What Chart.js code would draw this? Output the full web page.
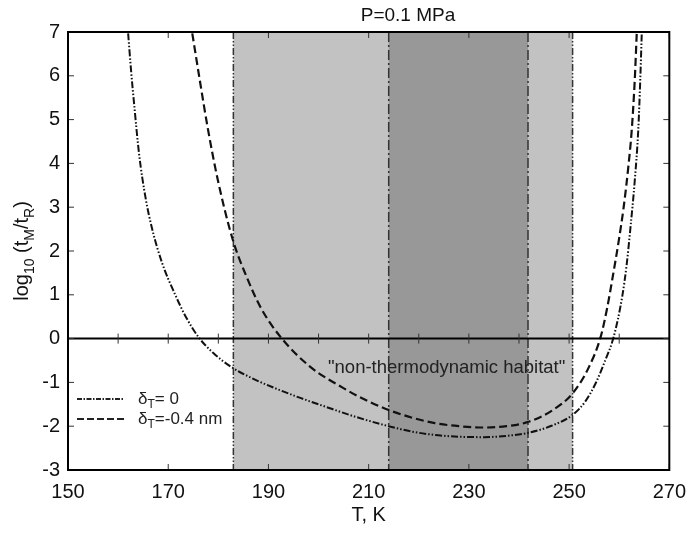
<!DOCTYPE html>
<html>
<head>
<meta charset="utf-8">
<title>P=0.1 MPa</title>
<script src="https://cdn.jsdelivr.net/npm/chart.js@4/dist/chart.umd.min.js"></script>
<style>
  html, body { margin: 0; padding: 0; background: #fff; }
  #wrap { width: 696px; height: 534px; position: relative; }
</style>
</head>
<body>
<div id="wrap"><canvas id="chart" width="696" height="534"></canvas></div>
<script>
// ---- data ----
// delta_T = 0 (dash-dot-dot curve)
const tZero   = [162.0, 162.6, 163.2, 164.2, 165.5, 166.8, 168.8, 171.4, 173.5, 176.0, 179.0, 182.5, 187.0, 191.7, 196.5, 201.5, 207.5, 214.0, 218.5, 223.2, 228.0, 233.0, 237.5, 241.9, 246.5, 250.7, 253.2, 255.3, 257.2, 258.9, 260.6, 261.5, 262.2, 263.1, 263.8, 264.2, 264.5];
const logZero = [6.97, 6.1, 5.35, 4.2, 3.2, 2.5, 1.72, 1.0, 0.5, 0.04, -0.33, -0.64, -0.92, -1.15, -1.36, -1.56, -1.79, -2.0, -2.12, -2.2, -2.24, -2.25, -2.22, -2.15, -1.99, -1.74, -1.44, -1.02, -0.5, 0.04, 0.96, 1.7, 2.48, 3.6, 4.76, 5.9, 6.97];

// delta_T = -0.4 nm (dashed curve)
const tShift   = [174.8, 176.3, 177.9, 179.9, 182.9, 185.5, 188.5, 192.4, 198.3, 204.8, 209.0, 214.0, 218.5, 223.2, 228.0, 233.0, 237.5, 241.9, 246.5, 250.7, 254.0, 256.3, 257.6, 258.6, 260.0, 260.9, 261.8, 262.5, 263.1, 263.5];
const logShift = [6.97, 5.9, 4.8, 3.62, 2.25, 1.45, 0.7, 0.04, -0.64, -1.12, -1.38, -1.63, -1.8, -1.93, -2.0, -2.03, -2.0, -1.90, -1.65, -1.25, -0.64, 0.04, 0.7, 1.34, 2.3, 3.01, 3.9, 4.76, 5.9, 6.97];

// shaded temperature bands
const outerBand = [183.0, 250.7];
const innerBand = [214.0, 241.8];

// axis ticks
const xTicks = [150, 170, 190, 210, 230, 250, 270];
const yTicks = [-3, -2, -1, 0, 1, 2, 3, 4, 5, 6, 7];

const FONT = "'Liberation Sans', Arial, sans-serif";

function pts(xs, ys) {
  return xs.map((x, i) => ({ x: x, y: ys[i] }));
}

// bands + boundary lines behind the curves
const bandsPlugin = {
  id: 'bands',
  beforeDatasetsDraw(chart) {
    const { ctx, chartArea: a, scales: { x } } = chart;
    ctx.save();
    const x0 = x.getPixelForValue(outerBand[0]), x1 = x.getPixelForValue(outerBand[1]);
    const x2 = x.getPixelForValue(innerBand[0]), x3 = x.getPixelForValue(innerBand[1]);
    ctx.fillStyle = '#c2c2c2';
    ctx.fillRect(x0, a.top, x1 - x0, a.bottom - a.top);
    ctx.fillStyle = '#989898';
    ctx.fillRect(x2, a.top, x3 - x2, a.bottom - a.top);

    ctx.lineWidth = 1.5;
    ctx.strokeStyle = '#333';
    ctx.setLineDash([7, 2, 1.5, 2, 1.5, 2]);
    [x0, x1].forEach(px => {
      ctx.beginPath(); ctx.moveTo(px, a.top); ctx.lineTo(px, a.bottom); ctx.stroke();
    });
    ctx.setLineDash([10, 3, 2, 3]);
    [x2, x3].forEach(px => {
      ctx.beginPath(); ctx.moveTo(px, a.top); ctx.lineTo(px, a.bottom); ctx.stroke();
    });
    ctx.restore();
  }
};

// frame, inward ticks, zero line, texts
const decorPlugin = {
  id: 'decor',
  afterDatasetsDraw(chart) {
    const { ctx, chartArea: a, scales: { x, y } } = chart;
    ctx.save();
    ctx.setLineDash([]);
    ctx.strokeStyle = '#000';

    // zero line
    const y0 = y.getPixelForValue(0);
    ctx.lineWidth = 2;
    ctx.beginPath(); ctx.moveTo(a.left, y0); ctx.lineTo(a.right, y0); ctx.stroke();

    // ticks
    ctx.lineWidth = 1;
    ctx.strokeStyle = '#333';
    yTicks.forEach(v => {
      const py = y.getPixelForValue(v);
      ctx.beginPath();
      ctx.moveTo(a.left, py); ctx.lineTo(a.left + 6, py);
      ctx.moveTo(a.right, py); ctx.lineTo(a.right - 6, py);
      ctx.stroke();
    });
    xTicks.forEach(v => {
      const px = x.getPixelForValue(v);
      ctx.beginPath();
      ctx.moveTo(px, a.bottom); ctx.lineTo(px, a.bottom - 6);
      ctx.moveTo(px, a.top); ctx.lineTo(px, a.top + 6);
      ctx.stroke();
    });
    for (let v = 160; v < 270; v += 10) {
      const px = x.getPixelForValue(v);
      ctx.beginPath(); ctx.moveTo(px, y0 - 5); ctx.lineTo(px, y0 + 5); ctx.stroke();
    }

    // frame
    ctx.strokeStyle = '#000';
    ctx.lineWidth = 2;
    ctx.strokeRect(a.left, a.top, a.right - a.left, a.bottom - a.top);

    // title
    ctx.fillStyle = '#111';
    ctx.textBaseline = 'middle';
    ctx.textAlign = 'center';
    ctx.font = '19px ' + FONT;
    ctx.fillText('P=0.1 MPa', 408, 16);

    // x title
    ctx.font = '20px ' + FONT;
    ctx.fillText('T, K', (a.left + a.right) / 2, 515);

    // annotation
    ctx.textAlign = 'left';
    ctx.font = '18.5px ' + FONT;
    ctx.fillStyle = '#222';
    ctx.fillText('"non-thermodynamic habitat"', 328, 368);

    // y title, rotated, with subscripts
    ctx.save();
    ctx.fillStyle = '#111';
    ctx.translate(22, 251);
    ctx.rotate(-Math.PI / 2);
    const parts = [
      ['log', 0, 20], ['10', 6, 14], [' (t', 0, 20], ['M', 6, 14],
      ['/t', 0, 20], ['R', 6, 14], [')', 0, 20]
    ];
    let w = 0;
    parts.forEach(p => { ctx.font = p[2] + 'px ' + FONT; w += ctx.measureText(p[0]).width; });
    let cx = -w / 2;
    ctx.textBaseline = 'alphabetic';
    parts.forEach(p => {
      ctx.font = p[2] + 'px ' + FONT;
      ctx.fillText(p[0], cx, 6 + p[1]);
      cx += ctx.measureText(p[0]).width;
    });
    ctx.restore();

    // legend
    const legend = [
      { y: 399, dash: [5, 1.5, 1.5, 1.5], tail: '= 0' },
      { y: 419, dash: [7, 3], tail: '=-0.4 nm' }
    ];
    legend.forEach(item => {
      ctx.strokeStyle = '#222';
      ctx.lineWidth = 2;
      ctx.setLineDash(item.dash);
      ctx.beginPath(); ctx.moveTo(77, item.y); ctx.lineTo(124, item.y); ctx.stroke();
      ctx.setLineDash([]);
      ctx.textBaseline = 'alphabetic';
      ctx.fillStyle = '#222';
      let lx = 138;
      ctx.font = '17px ' + FONT;
      ctx.fillText('\u03b4', lx, item.y + 5);
      lx += ctx.measureText('\u03b4').width;
      ctx.font = '12px ' + FONT;
      ctx.fillText('T', lx, item.y + 9);
      lx += ctx.measureText('T').width;
      ctx.font = '17px ' + FONT;
      ctx.fillText(item.tail, lx, item.y + 5);
    });
    ctx.restore();
  }
};

new Chart(document.getElementById('chart').getContext('2d'), {
  type: 'scatter',
  data: {
    datasets: [
      {
        label: 'δT= 0',
        data: pts(tZero, logZero),
        showLine: true,
        borderColor: '#111',
        borderWidth: 2,
        borderDash: [7, 2, 1.5, 2, 1.5, 2],
        pointRadius: 0,
        cubicInterpolationMode: 'monotone'
      },
      {
        label: 'δT=-0.4 nm',
        data: pts(tShift, logShift),
        showLine: true,
        borderColor: '#111',
        borderWidth: 2.2,
        borderDash: [8, 4],
        pointRadius: 0,
        cubicInterpolationMode: 'monotone'
      }
    ]
  },
  options: {
    responsive: false,
    animation: false,
    layout: { padding: { top: 32, right: 18, left: 0, bottom: 0 } },
    plugins: {
      legend: { display: false },
      tooltip: { enabled: false }
    },
    scales: {
      x: {
        type: 'linear',
        min: 150, max: 270,
        afterFit: s => { s.height = 64; },
        afterBuildTicks: s => { s.ticks = xTicks.map(v => ({ value: v })); },
        grid: { display: false, drawTicks: false },
        border: { display: false },
        ticks: { color: '#111', padding: 10, font: { family: FONT, size: 20 } }
      },
      y: {
        type: 'linear',
        min: -3, max: 7,
        afterFit: s => { s.width = 68; },
        afterBuildTicks: s => { s.ticks = yTicks.map(v => ({ value: v })); },
        grid: { display: false, drawTicks: false },
        border: { display: false },
        ticks: { color: '#111', padding: 8, font: { family: FONT, size: 20 } }
      }
    }
  },
  plugins: [bandsPlugin, decorPlugin]
});
</script>
</body>
</html>
